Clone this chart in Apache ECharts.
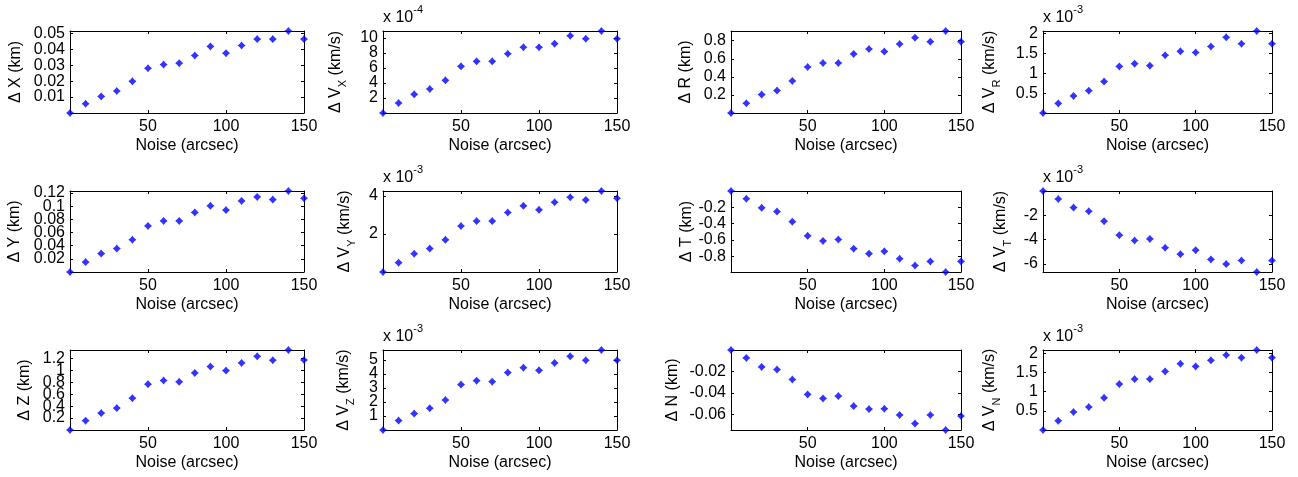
<!DOCTYPE html>
<html>
<head>
<meta charset="utf-8">
<script src="https://cdn.jsdelivr.net/npm/echarts@6/dist/echarts.min.js"></script>
<style>
  html, body { margin: 0; padding: 0; background: #ffffff; }
  #chart { width: 1298px; height: 477px; }
</style>
</head>
<body>
<div id="chart"></div>
<script>
// Noise level of the simulated angle measurements (arcsec)
const noise = [0, 10, 20, 30, 40, 50, 60, 70, 80, 90, 100, 110, 120, 130, 140, 150];
const noiseTicks = [50, 100, 150];

// Position errors (km)
const dX = [0, 0.0058, 0.0104, 0.0138, 0.0199, 0.0281, 0.0304, 0.0313, 0.0361, 0.0418, 0.0376, 0.0424, 0.0464, 0.0464, 0.0515, 0.0464];
const dY = [0, 0.015, 0.028, 0.0355, 0.049, 0.070, 0.0775, 0.0775, 0.0905, 0.1005, 0.094, 0.108, 0.114, 0.110, 0.123, 0.112];
const dZ = [0, 0.156, 0.283, 0.367, 0.533, 0.767, 0.828, 0.806, 0.956, 1.061, 0.994, 1.122, 1.233, 1.167, 1.339, 1.172];
const dR = [0, 0.108, 0.204, 0.248, 0.355, 0.509, 0.553, 0.553, 0.653, 0.708, 0.679, 0.763, 0.833, 0.789, 0.907, 0.789];
const dT = [0, -0.095, -0.207, -0.253, -0.377, -0.551, -0.613, -0.596, -0.708, -0.770, -0.741, -0.832, -0.915, -0.865, -0.995, -0.865];
const dN = [0, -0.0074, -0.0158, -0.0183, -0.0276, -0.0415, -0.0453, -0.0431, -0.0524, -0.0552, -0.0549, -0.0608, -0.0688, -0.0608, -0.0748, -0.0617];

// Velocity errors (km/s), in units of the exponent shown above each panel
const dVx = [0, 1.33, 2.49, 3.2, 4.36, 6.22, 6.89, 6.89, 7.9, 8.76, 8.76, 9.24, 10.3, 9.9, 10.93, 9.9];   // x 1e-4
const dVy = [0, 0.49, 0.96, 1.23, 1.69, 2.42, 2.68, 2.68, 3.13, 3.48, 3.27, 3.67, 3.93, 3.79, 4.26, 3.88]; // x 1e-3
const dVz = [0, 0.67, 1.17, 1.55, 2.14, 3.24, 3.52, 3.45, 4.10, 4.45, 4.26, 4.79, 5.26, 4.98, 5.71, 4.98]; // x 1e-3
const dVr = [0, 0.24, 0.43, 0.56, 0.79, 1.17, 1.24, 1.19, 1.45, 1.55, 1.52, 1.67, 1.90, 1.74, 2.06, 1.74]; // x 1e-3
const dVt = [0, -0.66, -1.37, -1.67, -2.49, -3.64, -4.08, -3.95, -4.68, -5.21, -4.88, -5.64, -6.03, -5.73, -6.68, -5.73]; // x 1e-3
const dVn = [0, 0.24, 0.47, 0.60, 0.84, 1.20, 1.33, 1.33, 1.53, 1.73, 1.66, 1.82, 1.96, 1.89, 2.09, 1.89]; // x 1e-3

// Tick values of each y axis
const ticksX = [0.01, 0.02, 0.03, 0.04, 0.05];
const ticksY = [0.02, 0.04, 0.06, 0.08, 0.1, 0.12];
const ticksZ = [0.2, 0.4, 0.6, 0.8, 1, 1.2];
const ticksR = [0.2, 0.4, 0.6, 0.8];
const ticksT = [-0.8, -0.6, -0.4, -0.2];
const ticksN = [-0.06, -0.04, -0.02];
const ticksVx = [2, 4, 6, 8, 10];
const ticksVy = [2, 4];
const ticksVz = [1, 2, 3, 4, 5];
const ticksVr = [0.5, 1, 1.5, 2];
const ticksVt = [-6, -4, -2];
const ticksVn = [0.5, 1, 1.5, 2];

// Panels, row by row (label parts: name, subscript, unit; exponent of the axis)
const panels = [
  { values: dX,  ticks: ticksX,  name: 'Δ X', sub: '',  unit: ' (km)',   exp: '' },
  { values: dVx, ticks: ticksVx, name: 'Δ V', sub: 'X', unit: ' (km/s)', exp: '-4' },
  { values: dR,  ticks: ticksR,  name: 'Δ R', sub: '',  unit: ' (km)',   exp: '' },
  { values: dVr, ticks: ticksVr, name: 'Δ V', sub: 'R', unit: ' (km/s)', exp: '-3' },
  { values: dY,  ticks: ticksY,  name: 'Δ Y', sub: '',  unit: ' (km)',   exp: '' },
  { values: dVy, ticks: ticksVy, name: 'Δ V', sub: 'Y', unit: ' (km/s)', exp: '-3' },
  { values: dT,  ticks: ticksT,  name: 'Δ T', sub: '',  unit: ' (km)',   exp: '' },
  { values: dVt, ticks: ticksVt, name: 'Δ V', sub: 'T', unit: ' (km/s)', exp: '-3' },
  { values: dZ,  ticks: ticksZ,  name: 'Δ Z', sub: '',  unit: ' (km)',   exp: '' },
  { values: dVz, ticks: ticksVz, name: 'Δ V', sub: 'Z', unit: ' (km/s)', exp: '-3' },
  { values: dN,  ticks: ticksN,  name: 'Δ N', sub: '',  unit: ' (km)',   exp: '' },
  { values: dVn, ticks: ticksVn, name: 'Δ V', sub: 'N', unit: ' (km/s)', exp: '-3' }
];

// Layout of the 3 x 4 panel grid (px)
const colLeft = [70, 383, 731, 1043];
const colWidth = [234, 234, 230, 229];
const rowTop = [31, 191, 350];
const rowHeight = [82, 81, 80];
// horizontal centre of each rotated y label
const yLabelX = [16, 336, 686, 990, 15, 345, 687, 1001, 25, 344, 673, 990];

const FONT = 'Arial, "Liberation Sans", Helvetica, sans-serif';
const INK = '#000000';
const FS = 16;

const grids = [], xAxes = [], yAxes = [], series = [], graphics = [];

const lineStyle = { color: INK, width: 1 };
const labelBase = {
  color: INK, fontSize: FS, fontFamily: FONT, interval: 0,
  hideOverlap: false, showMinLabel: true, showMaxLabel: true
};

panels.forEach((p, i) => {
  const row = Math.floor(i / 4), col = i % 4;
  const left = colLeft[col], top = rowTop[row], w = colWidth[col], h = rowHeight[row];
  grids.push({ left: left, top: top, width: w, height: h, containLabel: false });

  const yMin = Math.min.apply(null, p.values);
  const yMax = Math.max.apply(null, p.values);

  // bottom axis with labels, top axis as a plain frame edge with ticks
  xAxes.push({
    gridIndex: i, type: 'value', min: 0, max: 150, position: 'bottom',
    axisLine: { show: true, onZero: false, lineStyle: lineStyle },
    axisTick: { show: true, inside: true, length: 3, customValues: noiseTicks, lineStyle: lineStyle },
    axisLabel: Object.assign({ show: true, customValues: noiseTicks, margin: 6 }, labelBase),
    splitLine: { show: false },
    name: 'Noise (arcsec)', nameLocation: 'middle', nameGap: 25,
    nameTextStyle: { color: INK, fontSize: FS, fontFamily: FONT }
  });
  xAxes.push({
    gridIndex: i, type: 'value', min: 0, max: 150, position: 'top',
    axisLine: { show: true, onZero: false, lineStyle: lineStyle },
    axisTick: { show: true, inside: true, length: 3, customValues: noiseTicks, lineStyle: lineStyle },
    axisLabel: { show: false },
    splitLine: { show: false }
  });

  // tick labels sit close together on some panels; they are split over two
  // coincident left axes so every label is drawn, overlapping where it must
  const evenTicks = p.ticks.filter((t, k) => k % 2 === 0);
  const oddTicks = p.ticks.filter((t, k) => k % 2 === 1);
  yAxes.push({
    gridIndex: i, type: 'value', min: yMin, max: yMax, position: 'left',
    axisLine: { show: true, onZero: false, lineStyle: lineStyle },
    axisTick: { show: true, inside: true, length: 3, customValues: p.ticks, lineStyle: lineStyle },
    axisLabel: Object.assign({ show: true, customValues: evenTicks, margin: 5 }, labelBase),
    splitLine: { show: false }
  });
  yAxes.push({
    gridIndex: i, type: 'value', min: yMin, max: yMax, position: 'right',
    axisLine: { show: true, onZero: false, lineStyle: lineStyle },
    axisTick: { show: true, inside: true, length: 3, customValues: p.ticks, lineStyle: lineStyle },
    axisLabel: { show: false },
    splitLine: { show: false }
  });
  yAxes.push({
    gridIndex: i, type: 'value', min: yMin, max: yMax, position: 'left', offset: 0,
    axisLine: { show: false, onZero: false },
    axisTick: { show: false },
    axisLabel: Object.assign({ show: oddTicks.length > 0, customValues: oddTicks, margin: 5 }, labelBase),
    splitLine: { show: false }
  });

  series.push({
    type: 'scatter',
    xAxisIndex: 2 * i,
    yAxisIndex: 3 * i,
    data: noise.map((x, k) => [x, p.values[k]]),
    symbol: 'path://M0,-5 L2.3,-2.3 L5,0 L2.3,2.3 L0,5 L-2.3,2.3 L-5,0 L-2.3,-2.3 Z',
    symbolSize: 8,
    itemStyle: { color: '#0000ff' },
    clip: false,
    silent: true
  });

  // rotated y label with optional subscript
  const labelText = p.sub
    ? '{m|' + p.name + '}{s|' + p.sub + '}{m|' + p.unit + '}'
    : '{m|' + p.name + p.unit + '}';
  graphics.push({
    type: 'text',
    x: yLabelX[i],
    y: top + h / 2,
    rotation: Math.PI / 2,
    silent: true,
    style: {
      text: labelText,
      textAlign: 'center',
      textVerticalAlign: 'middle',
      fill: INK,
      rich: {
        m: { fontSize: FS, fontFamily: FONT, color: INK },
        s: { fontSize: 11, fontFamily: FONT, color: INK, padding: [14, 0, 0, 0] }
      }
    }
  });

  // axis exponent above the frame
  if (p.exp) {
    graphics.push({
      type: 'text',
      x: left,
      y: top - 13.5,
      silent: true,
      style: {
        text: '{m|x 10}{e|' + p.exp + '}',
        textAlign: 'left',
        textVerticalAlign: 'middle',
        fill: INK,
        rich: {
          m: { fontSize: FS, fontFamily: FONT, color: INK },
          e: { fontSize: 11, fontFamily: FONT, color: INK, padding: [0, 0, 16, 0] }
        }
      }
    });
  }
});

const chart = echarts.init(document.getElementById('chart'), null, { renderer: 'canvas' });
chart.setOption({
  animation: false,
  backgroundColor: '#ffffff',
  grid: grids,
  xAxis: xAxes,
  yAxis: yAxes,
  series: series,
  graphic: graphics
});
</script>
</body>
</html>
